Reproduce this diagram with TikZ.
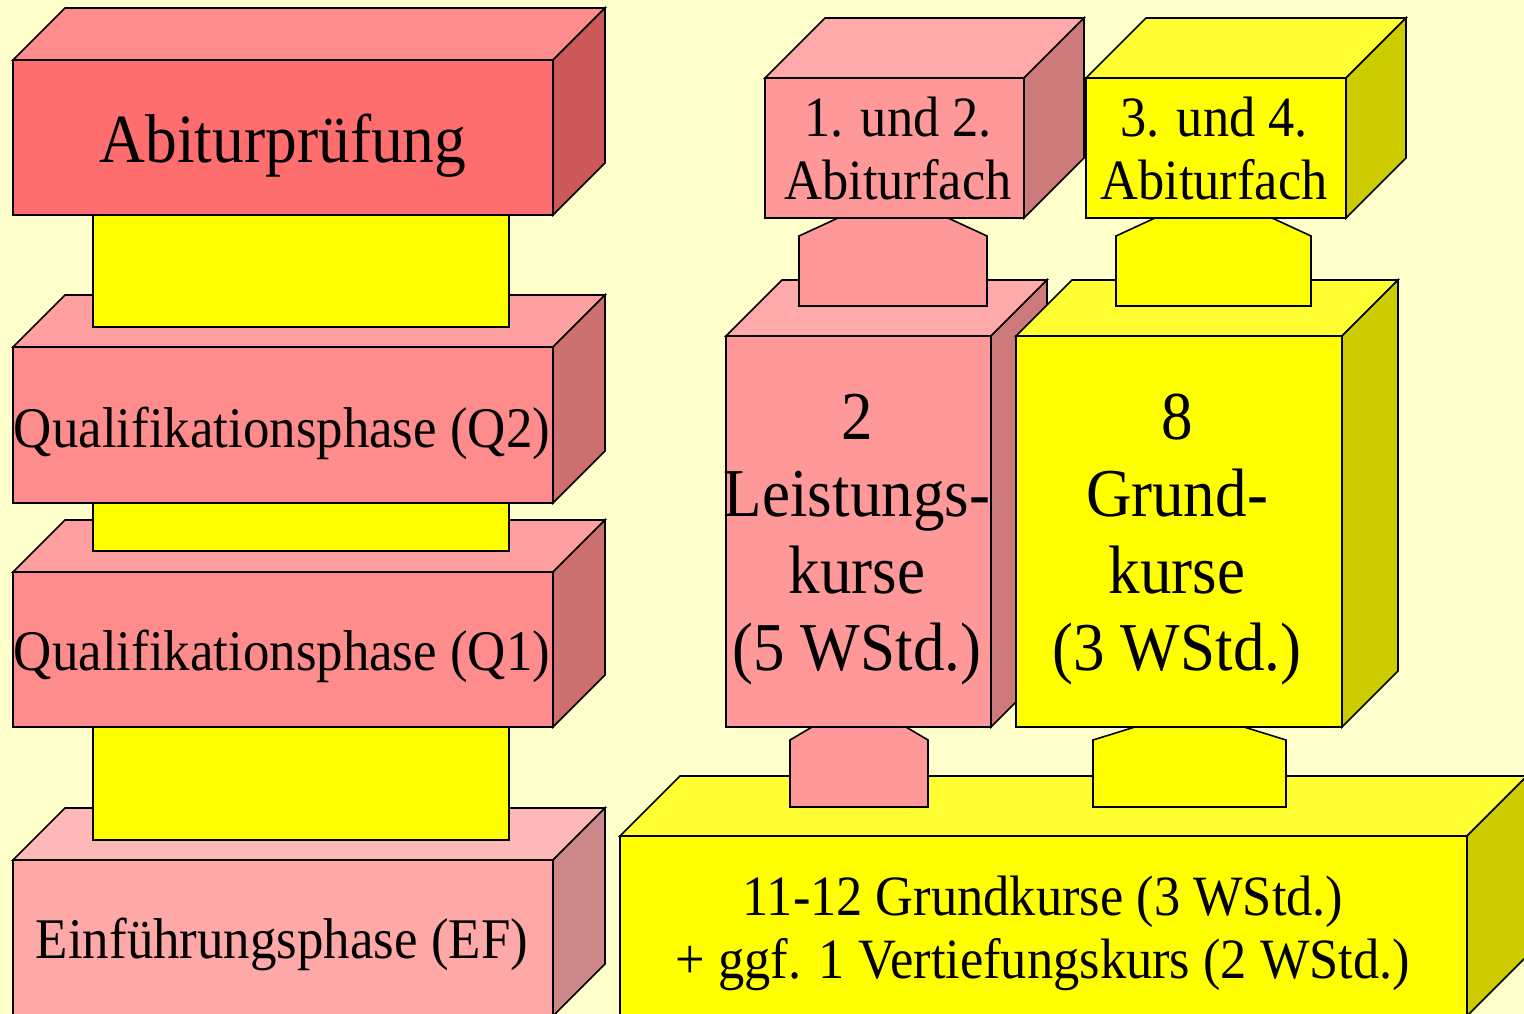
\documentclass[tikz,border=0pt]{standalone}
\usepackage{fontspec}
\setmainfont[FakeStretch=0.92]{Liberation Serif}
\usetikzlibrary{calc,fit}
\definecolor{bg}{HTML}{FFFFCC}
\definecolor{abiF}{HTML}{FF6E6E}\definecolor{abiT}{HTML}{FF8C8C}\definecolor{abiS}{HTML}{CC5858}
\definecolor{qF}{HTML}{FF8C8C}\definecolor{qT}{HTML}{FFA0A0}\definecolor{qS}{HTML}{CC7070}
\definecolor{efF}{HTML}{FFA8A8}\definecolor{efT}{HTML}{FFB8B8}\definecolor{efS}{HTML}{CC8888}
\definecolor{pkF}{HTML}{FF9999}\definecolor{pkT}{HTML}{FFAAAA}\definecolor{pkS}{HTML}{CC7A7A}
\definecolor{ywF}{HTML}{FFFF00}\definecolor{ywT}{HTML}{FFFF33}\definecolor{ywS}{HTML}{CCCC00}
\tikzset{
  edge/.style={draw=black,line width=1.6pt,line join=miter},
  face/.style={edge,inner sep=0pt,outer sep=0pt},
  lbl/.style={inner sep=0pt,outer sep=0pt,align=center,text=black},
}
\newcommand\qbox[5]{%
  \node[face,fill=#5F,fit={#2 #3}] (#1) {};
  \draw[edge,fill=#5T] (#1.north west) -- ++(#4,-#4) -- ($(#1.north east)+(#4,-#4)$) -- (#1.north east) -- cycle;
  \draw[edge,fill=#5S] (#1.north east) -- ++(#4,-#4) -- ($(#1.south east)+(#4,-#4)$) -- (#1.south east) -- cycle;
}
\newcommand\pent[8]{%
  \draw[edge,fill=#8] (#2,#6) -- (#2,#5) -- ({#2+#7},#4) coordinate (#1) -- ({#3-#7},#4) -- (#3,#5) -- (#3,#6) -- cycle;
}
\begin{document}
\begin{tikzpicture}[x=1pt,y=-1pt]
\fill[bg] (0,0) rectangle (1524,1014);
\useasboundingbox (0,0) rectangle (1524,1014);
\clip (0,0) rectangle (1524,1014);
% left column
\qbox{ef}{(13,860)}{(553,1016)}{52}{ef}
\qbox{qa}{(13,572)}{(553,727)}{52}{q}
\qbox{qb}{(13,347)}{(553,503)}{52}{q}
\qbox{abi}{(13,60)}{(553,215)}{52}{abi}
\node[face,fill=ywF,fit={(93,727)(509,840)}] (c3) {};
\node[face,fill=ywF,fit={(93,503)(509,551)}] (c2) {};
\node[face,fill=ywF,fit={(93,215)(509,327)}] (c1) {};
% right side
\qbox{gk}{(620,836)}{(1467,1016)}{60}{yw}
\qbox{fa}{(765,78)}{(1024,218)}{60}{pk}
\qbox{fb}{(1086,78)}{(1346,218)}{60}{yw}
\qbox{lk}{(726,336)}{(991,727)}{56}{pk}
\qbox{gr}{(1016,336)}{(1342,727)}{56}{yw}
\pent{pa}{799}{987}{218}{236}{306}{39}{pkF}
\pent{pb}{1116}{1311}{218}{236}{306}{39}{ywF}
\pent{pc}{790}{928}{727}{740}{807}{22}{pkF}
\pent{pd}{1093}{1286}{727}{740}{807}{42}{ywF}
% texts
\node[lbl,anchor=base,font=\fontsize{69}{80}\selectfont] (tabi) at (283,163) {Abiturprüfung};
\node[lbl,anchor=base,font=\fontsize{57.5}{66}\selectfont] (tqb) at (282,447) {Qualifikationsphase (Q2)};
\node[lbl,anchor=base,font=\fontsize{57.5}{66}\selectfont] (tqa) at (282,670) {Qualifikationsphase (Q1)};
\node[lbl,anchor=base,font=\fontsize{57.5}{66}\selectfont] (tef) at (282,958) {Einführungsphase (EF)};
\node[lbl,anchor=base,font=\fontsize{57}{63}\selectfont] (tfa) at (898,200) {1. und 2.\\Abiturfach};
\node[lbl,anchor=base,font=\fontsize{57}{63}\selectfont] (tfb) at (1214,200) {3. und 4.\\Abiturfach};
\node[lbl,anchor=base,font=\fontsize{68.5}{77}\selectfont] (tlk) at (857,670) {2\\Leistungs-\\kurse\\(5 WStd.)};
\node[lbl,anchor=base,font=\fontsize{68.5}{77}\selectfont] (tgr) at (1177,670) {8\\Grund-\\kurse\\(3 WStd.)};
\node[lbl,anchor=base,font=\fontsize{57}{63}\selectfont] (tgk) at (1043,978) {11-12 Grundkurse (3 WStd.)\\+ ggf. 1 Vertiefungskurs (2 WStd.)};
\end{tikzpicture}
\end{document}
